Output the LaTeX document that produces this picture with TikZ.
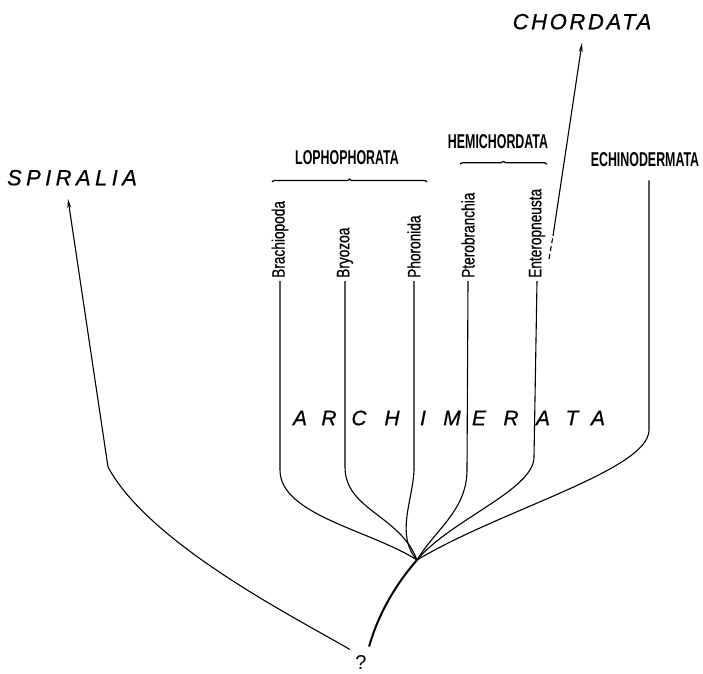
\documentclass[tikz,border=0pt]{standalone}
\usepackage{fontspec}
\setmainfont{Liberation Sans}
\newfontfamily\taxonfont[FakeStretch=0.76,FakeBold=0.6]{Liberation Sans}
\newfontfamily\groupfont[FakeStretch=0.62]{Liberation Sans}
\newfontfamily\cladefont[LetterSpace=20,FakeBold=0.6]{Liberation Sans}
\newfontfamily\chordfont[LetterSpace=12,FakeBold=0.6]{Liberation Sans}
\newfontfamily\archifont[FakeBold=0.6]{Liberation Sans}
\usetikzlibrary{arrows.meta,positioning,decorations.pathreplacing}

\begin{document}
\begin{tikzpicture}[x=1pt, y=-1pt, >={Stealth[length=9pt,width=4pt]},
  taxon/.style={rotate=90, anchor=west, inner sep=3pt, font=\taxonfont\fontsize{18}{18}\selectfont},
  group/.style={inner sep=0pt, font=\groupfont\bfseries\fontsize{20}{20}\selectfont},
  clade/.style={font=\cladefont\itshape\fontsize{22}{22}\selectfont},
  archi/.style={font=\archifont\itshape\fontsize{21}{21}\selectfont},
  branch/.style={line width=1.1pt},
  trunk/.style={line width=2pt},
  bracket/.style={decorate, decoration={brace, amplitude=3pt}, line width=1.2pt}]
\useasboundingbox (0,0) rectangle (703,673);

% taxa
\node[taxon] (brach) at (280,281) {Brachiopoda};
\node[taxon] (bryo) at (345,281) {Bryozoa};
\node[taxon] (phoro) at (414,281) {Phoronida};
\node[taxon] (ptero) at (468,281) {Pterobranchia};
\node[taxon] (entero) at (537,281) {Enteropneusta};

% groups
\node[group] (lopho) at (347,158) {LOPHOPHORATA};
\node[group] (hemi) at (498,142) {HEMICHORDATA};
\node[group] (echino) at (645,160) {ECHINODERMATA};
\draw[bracket] (272,182) -- (427,182);
\draw[bracket, decoration={amplitude=2.5pt}] (460,164) -- (547,164);

% outgroups
\coordinate (spiratip) at (68,199);
\coordinate (chordtip) at (582,43);
\coordinate (entgap) at (553,236);
\node[clade, above=10pt of spiratip, xshift=4pt] (spira) {SPIRALIA};
\node[clade, font=\chordfont\itshape\fontsize{22}{22}\selectfont, above=10pt of chordtip] (chorda) {CHORDATA};

\node[font=\fontsize{20}{20}\selectfont] (root) at (361,663) {?};
\coordinate (fork) at (417,560);

% tree
\draw[trunk] (root.north east) ++(-1,-6) .. controls (378,615) and (395,585) .. (fork);
\draw[branch, ->] (root.north west) ++(-2,-3) .. controls (300,620) and (150,545) .. (108,467) -- (spiratip);
\draw[branch] (brach.west) -- (280,470) .. controls (280,515) and (370,530) .. (fork);
\draw[branch] (bryo.west) -- (345,467) .. controls (345,510) and (400,515) .. (fork);
\draw[branch] (phoro.west) -- (414,470) .. controls (413,500) and (395,535) .. (fork);
\draw[branch] (ptero.west) -- (467,470) .. controls (467,510) and (435,530) .. (fork);
\draw[branch] (entero.west) -- (534,457) .. controls (534,490) and (450,520) .. (fork);
\draw[branch] ([xshift=4pt,yshift=-13pt]echino.south) -- (649,430) .. controls (649,470) and (500,510) .. (fork);
\draw[branch, dash pattern=on 5pt off 3pt] (549,259) -- (entgap);
\draw[branch, ->] (entgap) -- (chordtip);

% ARCHIMERATA
\foreach \letter/\xpos in {A/300,R/329,C/359,H/392,I/423,M/452,E/479,R/511,A/543,T/572,A/598}
  \node[archi] (arch-\xpos) at (\xpos,418) {\letter};
\end{tikzpicture}
\end{document}
